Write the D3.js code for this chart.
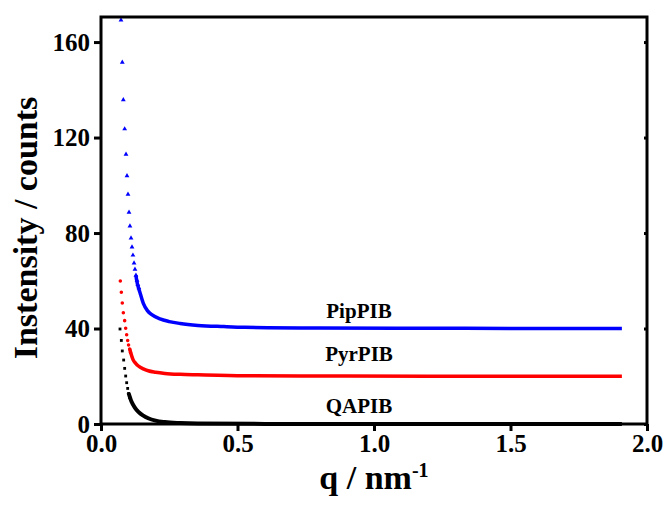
<!DOCTYPE html>
<html>
<head>
<meta charset="utf-8">
<script src="https://cdn.jsdelivr.net/npm/d3@7"></script>
<style>
  body { margin: 0; background: #fff; }
  svg { display: block; }
</style>
</head>
<body>
<div id="chart"></div>
<script>
var W = 665, H = 505;

// data: [q, intensity]
var xTicks = [0, 0.5, 1.0, 1.5, 2.0];
var yTicks = [0, 40, 80, 120, 160];

var pipDots = [[0.0733,169.2],[0.078,151.5],[0.0818,135.8],[0.0867,123.6],[0.0916,113],[0.0952,104],
  [0.0989,96.2],[0.1026,88.7],[0.106,82.9],[0.11,77.9],[0.1136,74.1],[0.117,70.7],[0.121,67.4],
  [0.1245,64.8],[0.128,62.3],[0.132,60.2],[0.135,58.4],[0.139,57]];
var pipTrail = [[0.128,62.3],[0.1305,60.3],[0.143,55],[0.155,50.5],[0.17,47.5],[0.186,45.8],
  [0.216,44],[0.25,42.9],[0.29,42.1],[0.355,41.3],[0.45,40.8],[0.527,40.5],[0.8,40.2],
  [1.2,40.1],[1.6,40.0],[1.908,40.0]];

var pyrDots = [[0.0708,59.9],[0.0745,55.2],[0.078,50.7],[0.0818,46.6],[0.0867,43.3],[0.0904,40.1],
  [0.094,37.4],[0.0977,35.0],[0.101,33.1],[0.105,31.4],[0.108,30.0]];
var pyrTrail = [[0.105,31.4],[0.118,26.8],[0.127,25.4],[0.137,24.3],[0.155,23.1],[0.173,22.3],
  [0.2,21.7],[0.234,21.2],[0.29,20.8],[0.355,20.6],[0.527,20.2],[0.8,20.1],[1.2,20.0],[1.908,20.0]];

var qaDots = [[0.0696,39.8],[0.0745,35],[0.078,30.6],[0.083,26.8],[0.0867,23.3],[0.0904,20.1],
  [0.094,17.3],[0.0977,14.9],[0.101,12.8],[0.105,11.0]];
var qaTrail = [[0.101,13.0],[0.112,9.3],[0.124,6.9],[0.137,5.1],[0.155,3.5],[0.173,2.4],
  [0.2,1.4],[0.234,0.8],[0.29,0.4],[0.355,0.2],[0.6,0.05],[1.908,0]];

var seriesNames = ["PipPIB", "PyrPIB", "QAPIB"];

var svg = d3.select("#chart").append("svg")
  .attr("width", W).attr("height", H);

var x = d3.scaleLinear().domain([0, 2]).range([101, 647]);
var y = d3.scaleLinear().domain([0, 170.5]).range([424, 17]);

var FONT = "'Liberation Serif', 'Times New Roman', serif";

var line = d3.line()
  .x(function(d) { return x(d[0]); })
  .y(function(d) { return y(d[1]); })
  .curve(d3.curveMonotoneX);

function drawSeries(dots, trail, color, shape, size, width) {
  svg.append("path")
    .datum(trail)
    .attr("d", line)
    .attr("fill", "none")
    .attr("stroke", color)
    .attr("stroke-width", width);
  svg.append("g").selectAll("path")
    .data(dots)
    .enter().append("path")
    .attr("transform", function(d) { return "translate(" + x(d[0]) + "," + y(d[1]) + ")"; })
    .attr("d", d3.symbol().type(shape).size(size))
    .attr("fill", color);
}

drawSeries(qaDots, qaTrail, "#000", d3.symbolSquare, 8, 4);
drawSeries(pyrDots, pyrTrail, "#ff0000", d3.symbolCircle, 10, 3.5);
drawSeries(pipDots, pipTrail, "#0000ff", d3.symbolTriangle, 10, 3.5);

// frame
svg.append("rect")
  .attr("x", x(0)).attr("y", y(170.5))
  .attr("width", x(2) - x(0)).attr("height", y(0) - y(170.5))
  .attr("fill", "none").attr("stroke", "#000").attr("stroke-width", 3);

// bottom axis
var xAxis = svg.append("g")
  .attr("transform", "translate(0," + y(0) + ")")
  .call(d3.axisBottom(x).tickValues(xTicks).tickFormat(d3.format(".1f")).tickSize(7).tickPadding(3));
// left axis
var yAxis = svg.append("g")
  .attr("transform", "translate(" + x(0) + ",0)")
  .call(d3.axisLeft(y).tickValues(yTicks).tickSize(7).tickPadding(4));
// right axis, tiny inner ticks
var yAxisR = svg.append("g")
  .attr("transform", "translate(" + x(2) + ",0)")
  .call(d3.axisRight(y).tickValues(yTicks).tickSize(-3).tickFormat(""));

[xAxis, yAxis, yAxisR].forEach(function(a) {
  a.select(".domain").remove();
  a.selectAll("line").attr("stroke", "#000").attr("stroke-width", 3);
  a.selectAll("text")
    .attr("font-family", FONT)
    .attr("font-weight", "bold")
    .attr("font-size", "25px")
    .attr("fill", "#000");
});

// series labels
var labelPos = [[0.945, 44.4], [0.945, 26.3], [0.945, 4.6]];
svg.append("g").selectAll("text")
  .data(seriesNames)
  .enter().append("text")
  .attr("x", function(d, i) { return x(labelPos[i][0]); })
  .attr("y", function(d, i) { return y(labelPos[i][1]); })
  .attr("text-anchor", "middle")
  .attr("font-family", FONT)
  .attr("font-weight", "bold")
  .attr("font-size", "21px")
  .text(function(d) { return d; });

// axis titles
var xt = svg.append("text")
  .attr("x", 374).attr("y", 489)
  .attr("text-anchor", "middle")
  .attr("font-family", FONT)
  .attr("font-weight", "bold")
  .attr("font-size", "34px");
xt.append("tspan").text("q / nm");
xt.append("tspan").attr("font-size", "20px").attr("dy", -12).text("-1");

svg.append("text")
  .attr("transform", "translate(37,228) rotate(-90)")
  .attr("text-anchor", "middle")
  .attr("font-family", FONT)
  .attr("font-weight", "bold")
  .attr("font-size", "34px")
  .text("Instensity / counts");
</script>
</body>
</html>
